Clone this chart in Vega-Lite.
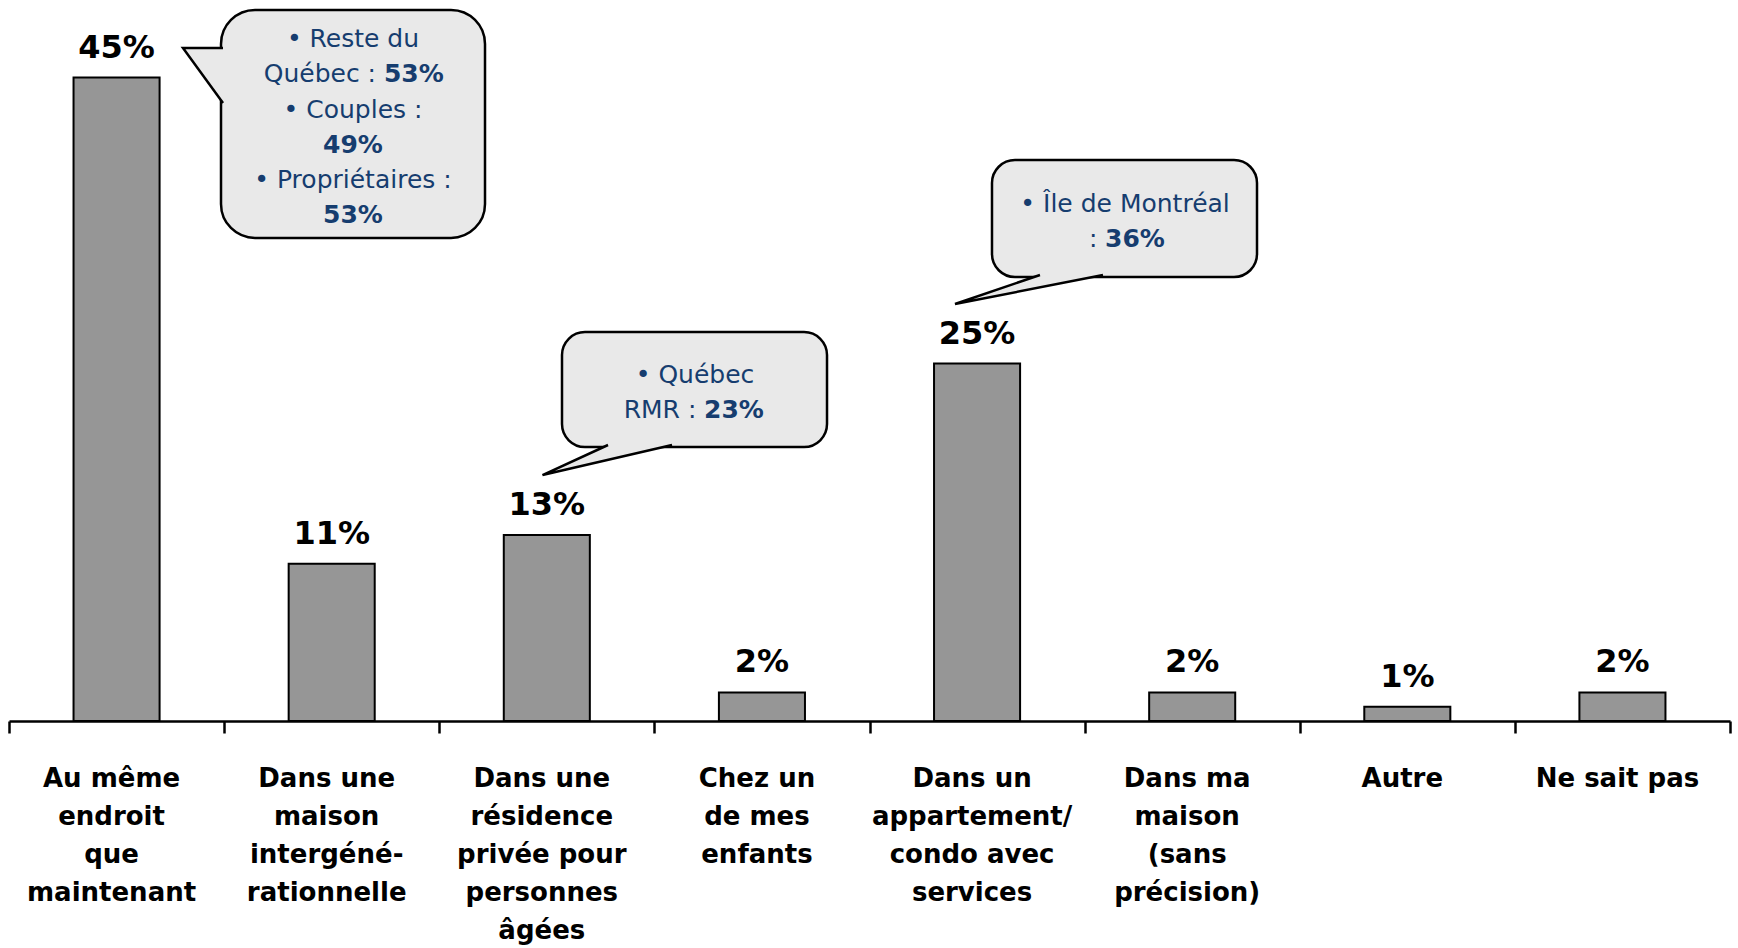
{
  "$schema": "https://vega.github.io/schema/vega-lite/v6.json",
  "width": 1721,
  "height": 715,
  "autosize": {"type": "none"},
  "padding": {"left": 9, "top": 6, "right": 8, "bottom": 227},
  "background": "white",
  "config": {"view": {"stroke": null}},
  "datasets": {
    "bars": [
      {"cat": "Au même|endroit|que|maintenant", "value": 0.45},
      {"cat": "Dans une|maison|intergéné-|rationnelle", "value": 0.11},
      {"cat": "Dans une|résidence|privée pour|personnes|âgées", "value": 0.13},
      {"cat": "Chez un|de mes|enfants", "value": 0.02},
      {"cat": "Dans un|appartement/|condo avec|services", "value": 0.25},
      {"cat": "Dans ma|maison|(sans|précision)", "value": 0.02},
      {"cat": "Autre", "value": 0.01},
      {"cat": "Ne sait pas", "value": 0.02}
    ],
    "bubbles": [
      {"id": "b1", "x": 0.9855, "x2": 2.2127, "y": 0.4972, "y2": 0.3378},
      {"id": "b2", "x": 2.5706, "x2": 3.8025, "y": 0.2720, "y2": 0.1916},
      {"id": "b3", "x": 4.5694, "x2": 5.8013, "y": 0.3923, "y2": 0.3105}
    ],
    "tails": [
      {"id": "b1", "ord": 1, "x": 0.9948, "y": 0.4706},
      {"id": "b1", "ord": 2, "x": 0.8088, "y": 0.4706},
      {"id": "b1", "ord": 3, "x": 0.9948, "y": 0.4322},
      {"id": "b2", "ord": 1, "x": 2.7845, "y": 0.1930},
      {"id": "b2", "ord": 2, "x": 2.4800, "y": 0.1720},
      {"id": "b2", "ord": 3, "x": 3.0820, "y": 0.1930},
      {"id": "b3", "ord": 1, "x": 4.7925, "y": 0.3119},
      {"id": "b3", "ord": 2, "x": 4.3974, "y": 0.2916},
      {"id": "b3", "ord": 3, "x": 5.0854, "y": 0.3119}
    ],
    "notes": [
      {"x": 1.599, "y": 0.4713, "text": "• Reste du", "seg": "full"},
      {"x": 1.706, "y": 0.4469, "text": "Québec :", "seg": "pre"},
      {"x": 1.743, "y": 0.4469, "text": "53%", "seg": "fig"},
      {"x": 1.599, "y": 0.4217, "text": "• Couples :", "seg": "full"},
      {"x": 1.599, "y": 0.3972, "text": "49%", "seg": "pct"},
      {"x": 1.599, "y": 0.3727, "text": "• Propriétaires :", "seg": "full"},
      {"x": 1.599, "y": 0.3483, "text": "53%", "seg": "pct"},
      {"x": 3.189, "y": 0.2364, "text": "• Québec", "seg": "full"},
      {"x": 3.195, "y": 0.2119, "text": "RMR :", "seg": "pre"},
      {"x": 3.231, "y": 0.2119, "text": "23%", "seg": "fig"},
      {"x": 5.188, "y": 0.3562, "text": "• Île de Montréal", "seg": "full"},
      {"x": 5.059, "y": 0.3317, "text": ":", "seg": "pre"},
      {"x": 5.095, "y": 0.3317, "text": "36%", "seg": "fig"}
    ]
  },
  "layer": [
    {
      "data": {"name": "bars"},
      "encoding": {
        "x": {
          "field": "cat",
          "type": "nominal",
          "sort": null,
          "scale": {"paddingInner": 0.6, "paddingOuter": 0.3},
          "axis": {
            "orient": "bottom",
            "title": null,
            "labelAngle": 0,
            "labelExpr": "split(datum.value, '|')",
            "labelFont": "DejaVu Sans",
            "labelFontWeight": "bold",
            "labelFontSize": 26,
            "labelLineHeight": 38,
            "labelColor": "black",
            "labelBaseline": "alphabetic",
            "labelPadding": 65,
            "labelOffset": -5,
            "labelLimit": 400,
            "labelOverlap": false,
            "labelFlush": false,
            "ticks": false,
            "domain": false,
            "grid": false
          }
        },
        "y": {
          "field": "value",
          "type": "quantitative",
          "scale": {"domain": [0, 0.5], "nice": false, "zero": true},
          "axis": null
        }
      },
      "layer": [
        {
          "mark": {"type": "bar", "fill": "#969696", "stroke": "black", "strokeWidth": 2}
        },
        {
          "mark": {
            "type": "text",
            "font": "DejaVu Sans",
            "fontWeight": "bold",
            "fontSize": 32,
            "color": "black",
            "baseline": "alphabetic",
            "align": "center",
            "dy": -20
          },
          "encoding": {"text": {"field": "value", "type": "quantitative", "format": ".0%"}}
        }
      ]
    },
    {
      "encoding": {
        "x": {
          "field": "x",
          "type": "quantitative",
          "scale": {"domain": [0, 8], "nice": false, "zero": false},
          "axis": {
            "orient": "bottom",
            "title": null,
            "values": [0, 1, 2, 3, 4, 5, 6, 7, 8],
            "labels": false,
            "grid": false,
            "domain": true,
            "domainColor": "black",
            "domainWidth": 2.5,
            "ticks": true,
            "tickSize": 12,
            "tickWidth": 2.5,
            "tickColor": "black"
          }
        },
        "y": {
          "field": "y",
          "type": "quantitative",
          "scale": {"domain": [0, 0.5], "nice": false},
          "axis": null
        }
      },
      "layer": [
        {
          "data": {"name": "bubbles"},
          "transform": [{"filter": "datum.id === 'b1'"}],
          "mark": {"type": "rect", "fill": "#e9e9e9", "stroke": "black", "strokeWidth": 2.5, "cornerRadius": 34},
          "encoding": {"x2": {"field": "x2"}, "y2": {"field": "y2"}}
        },
        {
          "data": {"name": "bubbles"},
          "transform": [{"filter": "datum.id !== 'b1'"}],
          "mark": {"type": "rect", "fill": "#e9e9e9", "stroke": "black", "strokeWidth": 2.5, "cornerRadius": 23},
          "encoding": {"x2": {"field": "x2"}, "y2": {"field": "y2"}}
        },
        {
          "data": {"name": "tails"},
          "mark": {"type": "line", "fill": "#e9e9e9", "stroke": "black", "strokeWidth": 2.5, "strokeJoin": "miter", "strokeMiterLimit": 4},
          "encoding": {
            "detail": {"field": "id"},
            "order": {"field": "ord"}
          }
        },
        {
          "data": {"name": "notes"},
          "transform": [{"filter": "datum.seg === 'full'"}],
          "mark": {"type": "text", "font": "DejaVu Sans", "fontSize": 25, "color": "#163d6f", "align": "center", "baseline": "alphabetic"},
          "encoding": {"text": {"field": "text"}}
        },
        {
          "data": {"name": "notes"},
          "transform": [{"filter": "datum.seg === 'pre'"}],
          "mark": {"type": "text", "font": "DejaVu Sans", "fontSize": 25, "color": "#163d6f", "align": "right", "baseline": "alphabetic"},
          "encoding": {"text": {"field": "text"}}
        },
        {
          "data": {"name": "notes"},
          "transform": [{"filter": "datum.seg === 'pct'"}],
          "mark": {"type": "text", "font": "DejaVu Sans", "fontWeight": "bold", "fontSize": 25, "color": "#163d6f", "align": "center", "baseline": "alphabetic"},
          "encoding": {"text": {"field": "text"}}
        },
        {
          "data": {"name": "notes"},
          "transform": [{"filter": "datum.seg === 'fig'"}],
          "mark": {"type": "text", "font": "DejaVu Sans", "fontWeight": "bold", "fontSize": 25, "color": "#163d6f", "align": "left", "baseline": "alphabetic"},
          "encoding": {"text": {"field": "text"}}
        }
      ]
    }
  ],
  "resolve": {"scale": {"x": "independent"}, "axis": {"x": "independent"}}
}
